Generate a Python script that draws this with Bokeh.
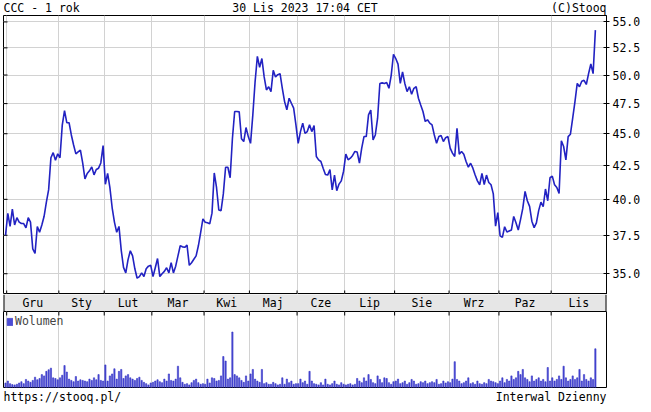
import math
from bokeh.plotting import figure
from bokeh.models import Range1d, FixedTicker, PrintfTickFormatter, Legend, LegendItem
from bokeh.layouts import column
from bokeh.embed import file_html
from bokeh.resources import INLINE
from bokeh.core.properties import value

# ---------------- data ----------------
title_left = "CCC - 1 rok"
title_center = "30 Lis 2023 17:04 CET"
title_right = "(C)Stooq"
footer_left = "https://stooq.pl/"
footer_right = "Interwal Dzienny"
volume_label = "Wolumen"

month_labels = ["Gru", "Sty", "Lut", "Mar", "Kwi", "Maj", "Cze", "Lip", "Sie", "Wrz", "Paz", "Lis"]
# index of the first session of each month in the daily series
month_first_idx = [1, 24, 44, 65, 88, 108, 129, 150, 172, 196, 218, 241]
price_ticks = [35.0, 37.5, 40.0, 42.5, 45.0, 47.5, 50.0, 52.5, 55.0]

close = [
    37.5, 39.0, 38.1, 39.3, 38.2, 38.7, 38.4, 38.3, 38.3, 38.0, 38.7, 38.4, 36.6, 36.3, 38.1, 37.7, 38.2, 38.8, 39.8, 40.7, 43.1, 43.5, 42.9, 43.4,
    43.1, 45.7, 46.9, 45.9, 45.9, 44.9, 44.1, 43.4, 43.55, 43.7, 42.7, 41.5, 41.9, 42.1, 42.4, 41.8, 42.2, 42.3, 42.7, 44.05,
    41.1, 41.9, 40.85, 39.4, 38.4, 37.7, 38.1, 36.5, 35.4, 35.05, 35.9, 36.47, 36.14, 35.31, 34.72, 34.82, 35.05, 34.82, 35.31, 35.48, 35.53,
    34.82, 35.38, 35.97, 34.82, 35.0, 35.15, 35.38, 35.05, 35.7, 35.05, 35.48, 36.14, 36.8, 36.73, 36.7, 36.84, 35.53, 35.7, 35.92, 36.14, 36.8, 37.68, 38.62,
    38.39, 38.35, 38.28, 39.02, 41.94, 40.86, 39.24, 39.19, 40.39, 42.37, 42.37, 41.58, 44.6, 46.83, 46.83, 46.8, 44.6, 44.37, 45.5, 44.77,
    44.23, 46.55, 49.4, 51.7, 50.7, 51.5, 49.83, 48.68, 48.96, 48.53, 50.42, 49.83, 50.03, 50.12, 48.82, 47.67, 46.98, 47.96, 47.53, 47.11, 45.72,
    44.23, 45.17, 45.86, 45.03, 45.17, 45.72, 45.17, 45.66, 43.2, 42.94, 42.81, 42.3, 41.83, 41.78, 42.19, 40.68, 41.78, 40.63, 41.11, 41.35, 42.07,
    43.38, 42.94, 43.07, 43.28, 43.59, 43.54, 42.68, 43.85, 44.77, 44.77, 46.55, 46.96, 44.5, 44.9, 46.27, 49.25, 49.3, 49.25, 49.33, 48.82, 49.97, 51.9,
    51.5, 50.99, 49.25, 50.27, 49.25, 48.53, 48.96, 48.3, 48.82, 48.96, 47.96, 47.39, 46.83, 46.0, 46.14, 45.86, 45.72, 44.9, 44.23, 44.77, 44.85, 44.37, 44.68, 44.77,
    43.85, 43.46, 43.2, 45.44, 43.38, 43.59, 43.38, 42.81, 42.38, 42.68, 42.3, 41.78, 41.35, 41.06, 41.9, 41.08, 41.78, 41.23, 41.06, 40.39, 38.12, 39.06,
    37.46, 37.36, 38.08, 37.72, 37.79, 37.86, 38.79, 38.35, 37.86, 38.57, 39.35, 40.58, 39.9, 39.5, 38.46, 38.02, 38.35, 39.2, 39.8, 39.47, 40.75, 39.9, 41.58,
    41.7, 41.06, 40.86, 40.43, 44.44, 43.98, 42.94, 44.77, 44.96, 46.27, 47.67, 49.25, 48.96, 49.44, 49.53, 49.16, 50.12, 51.0, 50.12, 54.2,
]

volume = [
    14, 20, 12, 9, 8, 10, 14, 18, 12, 25, 20, 16, 22, 32, 24, 28, 40, 36, 50, 55, 60, 30, 28, 24,
    30, 38, 68, 48, 26, 22, 18, 34, 20, 24, 22, 20, 18, 26, 22, 30, 24, 40, 22, 20,
    70, 20, 36, 42, 58, 26, 50, 56, 28, 36, 40, 30, 26, 22, 28, 32, 22, 16, 12, 8, 14,
    16, 20, 24, 18, 15, 26, 20, 42, 22, 20, 26, 66, 30, 16, 10, 12, 8, 15, 22, 26, 15, 10, 12,
    10, 26, 14, 30, 28, 20, 22, 36, 96, 82, 26, 30, 172, 40, 36, 30, 22, 16, 36, 20,
    42, 56, 26, 20, 16, 56, 12, 15, 10, 10, 16, 12, 8, 10, 30, 10, 26, 15, 20, 10, 12,
    12, 26, 15, 20, 10, 50, 20, 12, 10, 8, 15, 8, 26, 10, 8, 12, 20, 10, 8, 15, 10,
    8, 10, 12, 8, 10, 28, 20, 15, 30, 20, 40, 25, 15, 12, 36, 25, 15, 30, 28, 15, 10, 18,
    20, 26, 12, 15, 20, 10, 15, 25, 20, 10, 12, 18, 15, 20, 12, 15, 18, 15, 25, 10, 12, 20, 14, 18,
    15, 26, 80, 25, 20, 12, 15, 20, 30, 12, 15, 10, 20, 12, 10, 15, 12, 25, 20, 18, 15, 12,
    20, 30, 15, 25, 20, 36, 25, 30, 50, 40, 56, 30, 25, 18, 36, 20, 25, 30, 20, 25, 18, 62, 20,
    30, 20, 25, 36, 25, 66, 30, 20, 25, 36, 25, 30, 56, 20, 40, 25, 20, 30, 25, 120,
]

# ---------------- styling ----------------
FONT = value("DejaVu Sans Mono")
FONT_NAME = "DejaVu Sans Mono"
FS = "11.5px"
LINE_BLUE = "#2222c2"
BAR_FILL = "#4c4cd6"
BAR_LINE = "#3434c4"
GRID = "#d2d2d2"
STRIP = "#e6e6e6"
FW = 603
LB = 3
RB = 37
H_HEAD, H_PRICE, H_STRIP, H_VOL, H_FOOT = 15, 279, 17, 76, 16
TICK = 4  # px

n = len(close)
idx = list(range(n))
x_lo, x_hi = -0.9, n + 3.9
bounds = [i - 0.5 for i in month_first_idx]
edges = bounds + [x_hi]
centers = [(edges[k] + edges[k + 1]) / 2 for k in range(len(month_labels))]
dx_tick = (x_hi - x_lo) * TICK / FW


def base(height, y_range, **kw):
    opts = dict(min_border_left=LB, min_border_right=RB, min_border_top=0, min_border_bottom=0)
    opts.update(kw)
    p = figure(frame_width=FW, frame_height=height, x_range=Range1d(x_lo, x_hi), y_range=y_range,
               toolbar_location=None, output_backend="svg", **opts)
    p.background_fill_color = "white"
    p.border_fill_color = "white"
    return p


# header
head = base(H_HEAD, Range1d(0, 1), x_axis_location=None, y_axis_location=None)
head.outline_line_color = None
head.grid.visible = False
for x, t, a in [(x_lo, title_left, "left"), ((x_lo + x_hi) / 2, title_center, "center"), (x_hi, title_right, "right")]:
    head.text(x=[x], y=[0.5], text=[t], text_font=FONT, text_font_size=FS, text_align=a,
              text_baseline="middle", text_color="black")

# price panel (log scale)
lo = 35.0 * math.exp(-21 / 563.0)
hi = 55.0 * math.exp(6.5 / 563.0)
pp = base(H_PRICE, Range1d(lo, hi), y_axis_type="log", y_axis_location="right", x_axis_location=None)
pp.outline_line_color = "black"
pp.yaxis.ticker = FixedTicker(ticks=price_ticks)
pp.yaxis.formatter = PrintfTickFormatter(format="%.1f")
pp.yaxis.major_tick_in = 3
pp.yaxis.major_tick_out = 3
pp.yaxis.minor_tick_line_color = None
pp.yaxis.axis_line_color = "black"
pp.yaxis.major_label_text_font = FONT_NAME
pp.yaxis.major_label_text_font_size = FS
pp.yaxis.major_label_text_color = "black"
pp.yaxis.major_label_standoff = 3
pp.ygrid.ticker = FixedTicker(ticks=price_ticks)
pp.xgrid.ticker = FixedTicker(ticks=bounds)
pp.grid.grid_line_color = GRID
# short inner ticks on the left and bottom borders
pp.segment(x0=[x_lo] * len(price_ticks), y0=price_ticks, x1=[x_lo + dx_tick] * len(price_ticks), y1=price_ticks,
           line_color="black", line_width=1)
fac = math.exp(math.log(hi / lo) * TICK / H_PRICE)
pp.segment(x0=bounds, y0=[lo] * len(bounds), x1=bounds, y1=[lo * fac] * len(bounds), line_color="black", line_width=1)
pp.line(idx, close, line_color=LINE_BLUE, line_width=1.6)

# month strip (top/bottom edges come from the neighbouring panels' outlines)
st = base(H_STRIP, Range1d(0, 1), x_axis_location=None, y_axis_location=None)
st.grid.visible = False
st.background_fill_color = STRIP
st.outline_line_color = None
st.segment(x0=[x_lo, x_hi], y0=[0, 0], x1=[x_lo, x_hi], y1=[1, 1], line_color="black", line_width=2)
st.text(x=centers, y=[0.5] * len(centers), text=month_labels, text_font=FONT, text_font_size=FS,
        text_align="center", text_baseline="middle", text_color="black")

# volume panel
vmax = max(volume)
vtop = vmax * 1.37
vp = base(H_VOL, Range1d(0, vtop), x_axis_location=None, y_axis_location=None, min_border_bottom=1)
vp.outline_line_color = "black"
vp.ygrid.visible = False
vp.xgrid.ticker = FixedTicker(ticks=bounds)
vp.xgrid.grid_line_color = GRID
vp.segment(x0=bounds, y0=[vtop] * len(bounds), x1=bounds, y1=[vtop * (1 - TICK / H_VOL)] * len(bounds),
           line_color="black", line_width=1)
vr = vp.vbar(x=idx, top=volume, width=0.55, fill_color=BAR_FILL, line_color=BAR_LINE, line_width=0.6)
leg = Legend(items=[LegendItem(label=volume_label, renderers=[vr])], location="top_left",
             border_line_color=None, background_fill_alpha=0, padding=0, margin=3,
             glyph_width=7, glyph_height=9, label_standoff=2, label_text_font=FONT_NAME,
             label_text_font_size=FS, label_height=12)
vp.add_layout(leg)

# footer
ft = base(H_FOOT, Range1d(0, 1), x_axis_location=None, y_axis_location=None)
ft.outline_line_color = None
ft.grid.visible = False
for x, t, a in [(x_lo, footer_left, "left"), (x_hi, footer_right, "right")]:
    ft.text(x=[x], y=[0.5], text=[t], text_font=FONT, text_font_size=FS, text_align=a,
            text_baseline="middle", text_color="black")

layout = column(head, pp, st, vp, ft, spacing=0)
open("out.html", "w").write(file_html(layout, INLINE))
